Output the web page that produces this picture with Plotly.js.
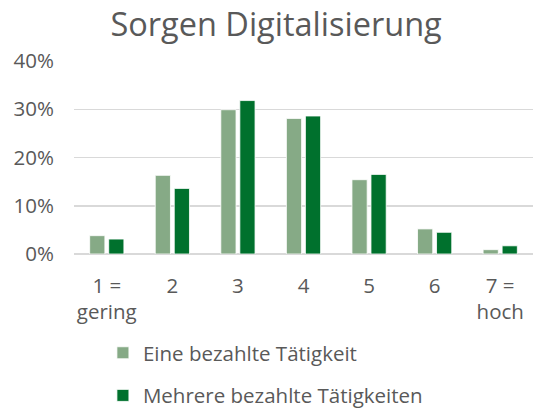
<!DOCTYPE html>
<html><head><meta charset="utf-8">
<script src="https://cdn.plot.ly/plotly-3.0.1.min.js"></script>
<style>html,body{margin:0;padding:0;background:#fff}#c{width:533px;height:409px}</style>
</head><body><div id="c"></div>
<script>
const categories = ["1 =<br>gering", "2", "3", "4", "5", "6", "7 =<br>hoch"];
const seriesNames = ["Eine bezahlte Tätigkeit", "Mehrere bezahlte Tätigkeiten"];
const eineValues = [0.038, 0.163, 0.299, 0.281, 0.154, 0.052, 0.009];
const mehrereValues = [0.031, 0.136, 0.318, 0.286, 0.165, 0.045, 0.017];
const yTicks = [0, 0.1, 0.2, 0.3, 0.4];

const font = "Open Sans, sans-serif";
const grey = "#595959";
const traces = [
  {type: "bar", x: categories, y: eineValues, name: seriesNames[0], legendgroup: "a",
   marker: {color: "#86AA86", line: {color: "#ffffff", width: 0.8}}, hoverinfo: "none"},
  {type: "bar", x: categories, y: mehrereValues, name: seriesNames[1], legendgroup: "b",
   marker: {color: "#00712D", line: {color: "#ffffff", width: 0.8}}, hoverinfo: "none"}
];
const layout = {
  width: 533, height: 409,
  margin: {l: 74, r: 0, t: 61, b: 155},
  paper_bgcolor: "#fff", plot_bgcolor: "#fff",
  font: {family: font, color: grey, size: 20.5},
  title: {text: "Sorgen Digitalisierung", font: {family: font, size: 32.5, color: grey},
          x: 0.518, xanchor: "center", yref: "container", y: 0.94, yanchor: "middle"},
  barmode: "group", bargap: 0.42, bargroupgap: 0.2,
  xaxis: {type: "category", showgrid: false, showline: false, zeroline: false, automargin: false,
          ticks: "", tickfont: {size: 20.5, color: grey}, ticklabelstandoff: 17},
  yaxis: {range: [0, 0.4], tickvals: yTicks, tickformat: ".0%", showgrid: true, automargin: false,
          gridcolor: "#d9d9d9", gridwidth: 1.5, zeroline: true, zerolinecolor: "#d9d9d9",
          zerolinewidth: 1.5, showline: false, ticks: "", tickfont: {size: 20.5, color: grey},
          ticklabelstandoff: 19},
  showlegend: true,
  legend: {orientation: "v", x: 0.063, xanchor: "left", yref: "container", y: 0.186, yanchor: "top",
           traceorder: "grouped", tracegroupgap: 13, font: {size: 20.5, color: grey},
           bgcolor: "rgba(0,0,0,0)"}
};
Plotly.newPlot("c", traces, layout, {displayModeBar: false, staticPlot: true});
</script></body></html>
